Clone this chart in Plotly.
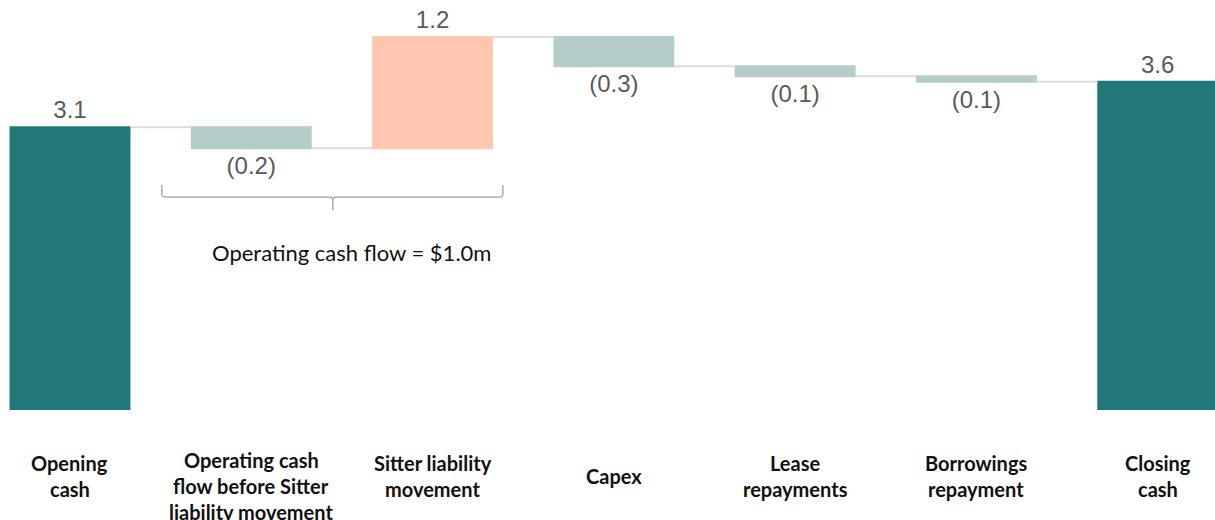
import plotly.graph_objects as go

categories = ["Opening\ncash", "Operating cash\nflow before Sitter\nliability movement",
              "Sitter liability\nmovement", "Capex", "Lease\nrepayments",
              "Borrowings\nrepayment", "Closing\ncash"]
values = [3.1, -0.23, 1.22, -0.32, -0.11, -0.06, 3.6]
measures = ["absolute", "relative", "relative", "relative", "relative", "relative", "total"]
value_labels = ["3.1", "(0.2)", "1.2", "(0.3)", "(0.1)", "(0.1)", "3.6"]
bracket_note = "Operating cash flow = $1.0m"

TEAL = "#21777A"
LIGHT = "#B5CDC8"
SALMON = "#FFC6B0"

x = list(range(len(categories)))

fig = go.Figure(go.Waterfall(
    x=x, y=values, measure=measures,
    text=value_labels, textposition="outside",
    textfont=dict(family="Liberation Sans, Arial", size=24, color="#595959"),
    outsidetextfont=dict(family="Liberation Sans, Arial", size=24, color="#595959"),
    constraintext="none",
    increasing=dict(marker=dict(color=SALMON)),
    decreasing=dict(marker=dict(color=LIGHT)),
    totals=dict(marker=dict(color=TEAL)),
    connector=dict(line=dict(color="#DDDDDD", width=2)),
    cliponaxis=False,
    hoverinfo="skip",
))

annotations = []
for i, cat in enumerate(categories):
    lines = cat.split("\n")
    n = len(lines)
    start = 476 - 13 * (n - 1) if n < 3 else 460
    for j, line in enumerate(lines):
        pix = start + 26 * j
        annotations.append(dict(
            x=i, y=0, xref="x", yref="paper", yanchor="middle", xanchor="center",
            yshift=-(pix - 410), text="<b>" + line + "</b>", showarrow=False,
            font=dict(family="Lato", size=20, color="#111111")))

annotations.append(dict(
    x=1.555, y=1.73, xref="x", yref="y", text=bracket_note, showarrow=False,
    font=dict(family="Lato", size=22, color="#111111")))

# brace under first two movements
bl, br, bm = 0.507, 2.388, 1.45
yh, ytop, ybot = 2.335, 2.467, 2.19
dx = 0.02
path = (f"M {bl},{ytop} L {bl},{yh+0.02} Q {bl},{yh} {bl+dx},{yh} "
        f"L {bm-dx},{yh} Q {bm},{yh} {bm},{yh-0.02} L {bm},{ybot} "
        f"M {bm},{yh-0.02} Q {bm},{yh} {bm+dx},{yh} "
        f"L {br-dx},{yh} Q {br},{yh} {br},{yh+0.02} L {br},{ytop}")

fig.update_layout(
    width=1215, height=520,
    margin=dict(l=0, r=0, t=0, b=110),
    plot_bgcolor="white", paper_bgcolor="white",
    showlegend=False,
    waterfallgap=0.333,
    xaxis=dict(range=[-0.386, 6.316], showticklabels=False, showgrid=False,
               zeroline=False, showline=False, ticks=""),
    yaxis=dict(range=[0, 4.496], visible=False),
    annotations=annotations,
    shapes=[dict(type="path", path=path, xref="x", yref="y",
                 line=dict(color="#808080", width=1))],
)

fig.write_html("out.html")
